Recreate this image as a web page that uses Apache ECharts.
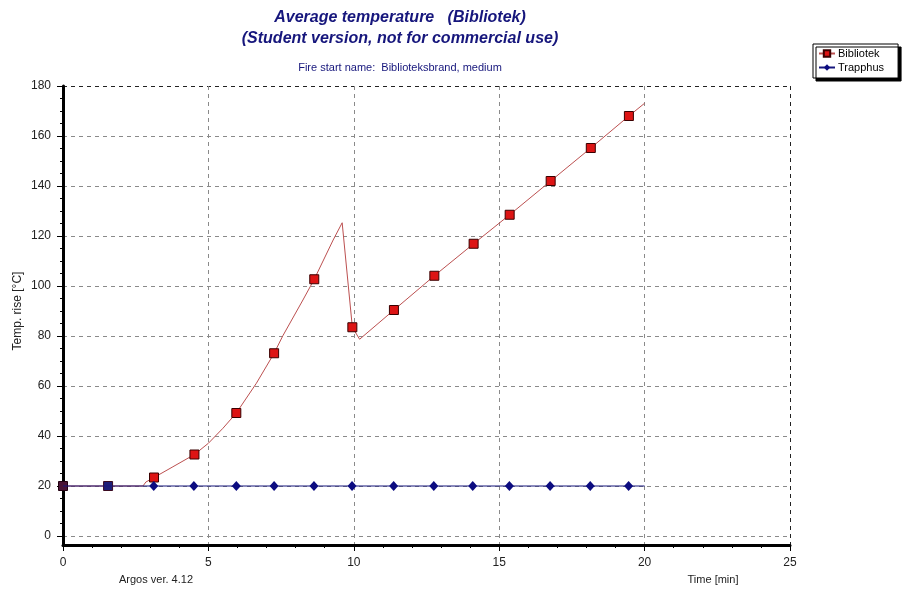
<!DOCTYPE html>
<html>
<head>
<meta charset="utf-8">
<title>Average temperature (Bibliotek)</title>
<script src="https://cdn.jsdelivr.net/npm/echarts@6/dist/echarts.min.js"></script>
<style>
  html, body { margin: 0; padding: 0; background: #fff; }
  #chart { width: 903px; height: 591px; }
</style>
</head>
<body>
<div id="chart"></div>
<script>
// Time [min] and temperature rise [°C] at the plotted marker positions
const bibMarkerTime = [0, 1.55, 3.13, 4.52, 5.96, 7.26, 8.64, 9.95, 11.38, 12.77, 14.12, 15.36, 16.77, 18.15, 19.46];
const bibMarkerTemp = [20, 20, 23.4, 32.6, 49.2, 73.1, 102.7, 83.5, 90.4, 104.1, 116.9, 128.5, 142.0, 155.2, 168.0];
// Additional points along the Bibliotek curve between markers
const bibCurveTime = [2.75, 2.85, 3.78, 5.0, 5.5, 6.65, 7.56, 8.25, 9.29, 9.6, 10.2, 20];
const bibCurveTemp = [20, 21.6, 27.7, 37.1, 43.1, 61.1, 80.1, 94.4, 118.4, 125.3, 78.7, 173.1];

const trapMarkerTime = [3.12, 4.50, 5.96, 7.26, 8.63, 9.94, 11.37, 12.75, 14.09, 15.35, 16.75, 18.13, 19.45];
const trapMarkerTemp = [20, 20, 20, 20, 20, 20, 20, 20, 20, 20, 20, 20, 20];
const trapLineTime = [0, 20];
const trapLineTemp = [20, 20];

const xTicks = [0, 5, 10, 15, 20, 25];
const yTicks = [0, 20, 40, 60, 80, 100, 120, 140, 160, 180];

const NAVY = '#16167c';
const FONT = '"Liberation Sans", Arial, sans-serif';

// Merge markers and curve points into one series, symbols only on markers
function buildBib() {
  const pts = [];
  bibMarkerTime.forEach((t, i) => {
    const item = { value: [t, bibMarkerTemp[i]] };
    if (i === 0) item.itemStyle = { color: '#4a1436', borderColor: '#220010' };
    if (i === 1) item.itemStyle = { color: '#1e1e78', borderColor: '#3a0a20' };
    pts.push(item);
  });
  bibCurveTime.forEach((t, i) => {
    pts.push({ value: [t, bibCurveTemp[i]], symbol: 'none' });
  });
  pts.sort((a, b) => a.value[0] - b.value[0]);
  return pts;
}

function buildTrap() {
  const pts = [];
  trapLineTime.forEach((t, i) => pts.push({ value: [t, trapLineTemp[i]], symbol: 'none' }));
  trapMarkerTime.forEach((t, i) => pts.push({ value: [t, trapMarkerTemp[i]] }));
  pts.sort((a, b) => a.value[0] - b.value[0]);
  return pts;
}

const chart = echarts.init(document.getElementById('chart'), null, { renderer: 'canvas' });

const gridColorsX = xTicks.map((v, i) => i === xTicks.length - 1 ? '#222' : '#8a8a8a');
const gridColorsY = yTicks.map((v, i) => i === yTicks.length - 1 ? '#222' : '#8a8a8a');

chart.setOption({
  animation: false,
  backgroundColor: '#fff',
  textStyle: { fontFamily: FONT },
  grid: [
    { left: 63, right: 113, top: 86, bottom: 46 },   // data area with axis lines
    { left: 63, right: 113, top: 86, bottom: 55 }    // y scale from 0 to 180
  ],
  xAxis: [
    {
      type: 'value', gridIndex: 0, min: xTicks[0], max: xTicks[xTicks.length - 1], interval: 5,
      axisLine: { show: true, onZero: false, lineStyle: { color: '#000', width: 3 } },
      axisTick: { show: true, length: 6, lineStyle: { color: '#000', width: 1 } },
      minorTick: { show: true, splitNumber: 5, length: 3, lineStyle: { color: '#000', width: 1 } },
      axisLabel: { fontSize: 12, color: '#222', margin: 12, fontFamily: FONT },
      splitLine: { show: true, lineStyle: { color: gridColorsX, width: 1, type: [4, 4] } }
    },
    { type: 'value', gridIndex: 1, min: 0, max: 25, show: false }
  ],
  yAxis: [
    {
      type: 'value', gridIndex: 0, min: -3.6, max: 180,
      axisLine: { show: true, onZero: false, lineStyle: { color: '#000', width: 3 } },
      axisTick: { show: false }, axisLabel: { show: false }, splitLine: { show: false }
    },
    {
      type: 'value', gridIndex: 1, min: yTicks[0], max: yTicks[yTicks.length - 1], interval: 20,
      name: 'Temp. rise [°C]', nameLocation: 'middle', nameRotate: 90, nameGap: 39,
      nameMoveOverlap: false,
      nameTextStyle: { fontSize: 12, color: '#222', fontFamily: FONT },
      axisLine: { show: false, onZero: false },
      axisTick: { show: true, length: 6, lineStyle: { color: '#000', width: 1 } },
      minorTick: { show: true, splitNumber: 4, length: 3, lineStyle: { color: '#000', width: 1 } },
      axisLabel: { fontSize: 12, color: '#222', margin: 12, fontFamily: FONT },
      splitLine: { show: true, lineStyle: { color: gridColorsY, width: 1, type: [4, 4] } }
    }
  ],
  legend: {
    orient: 'vertical', left: 813, top: 44,
    padding: [4, 14, 5, 5], itemGap: 3, itemWidth: 16, itemHeight: 8,
    backgroundColor: '#fff', borderColor: '#000', borderWidth: 1,
    shadowColor: '#000', shadowOffsetX: 3, shadowOffsetY: 3, shadowBlur: 0,
    textStyle: { fontSize: 11, color: '#000', fontFamily: FONT, padding: [0, 0, 0, -2] },
    data: ['Bibliotek', 'Trapphus']
  },
  graphic: [
    { type: 'text', x: 400, y: 18, z: 10, style: { text: 'Average temperature   (Bibliotek)', font: 'italic bold 16px ' + FONT, fill: NAVY, align: 'center', verticalAlign: 'middle' } },
    { type: 'text', x: 400, y: 39, z: 10, style: { text: '(Student version, not for commercial use)', font: 'italic bold 16px ' + FONT, fill: NAVY, align: 'center', verticalAlign: 'middle' } },
    { type: 'text', x: 400, y: 68, z: 10, style: { text: 'Fire start name:  Biblioteksbrand, medium', font: '11px ' + FONT, fill: NAVY, align: 'center', verticalAlign: 'middle' } },
    { type: 'text', x: 156, y: 580, z: 10, style: { text: 'Argos ver. 4.12', font: '11px ' + FONT, fill: '#222', align: 'center', verticalAlign: 'middle' } },
    { type: 'text', x: 713, y: 580, z: 10, style: { text: 'Time [min]', font: '11px ' + FONT, fill: '#222', align: 'center', verticalAlign: 'middle' } }
  ],
  series: [
    {
      name: 'Bibliotek', type: 'line', xAxisIndex: 0, yAxisIndex: 0, z: 2,
      data: buildBib(),
      symbol: 'rect', symbolSize: 9, showAllSymbol: true,
      lineStyle: { color: '#bc5050', width: 1 },
      itemStyle: { color: '#dd1414', borderColor: '#3a0000', borderWidth: 1 }
    },
    {
      name: 'Trapphus', type: 'line', xAxisIndex: 0, yAxisIndex: 0, z: 3,
      data: buildTrap(),
      symbol: 'diamond', symbolSize: [9, 10], showAllSymbol: true,
      lineStyle: { color: NAVY, width: 1.2 },
      itemStyle: { color: '#0c0c80', borderColor: '#0c0c80', borderWidth: 0 }
    }
  ]
});
</script>
</body>
</html>
